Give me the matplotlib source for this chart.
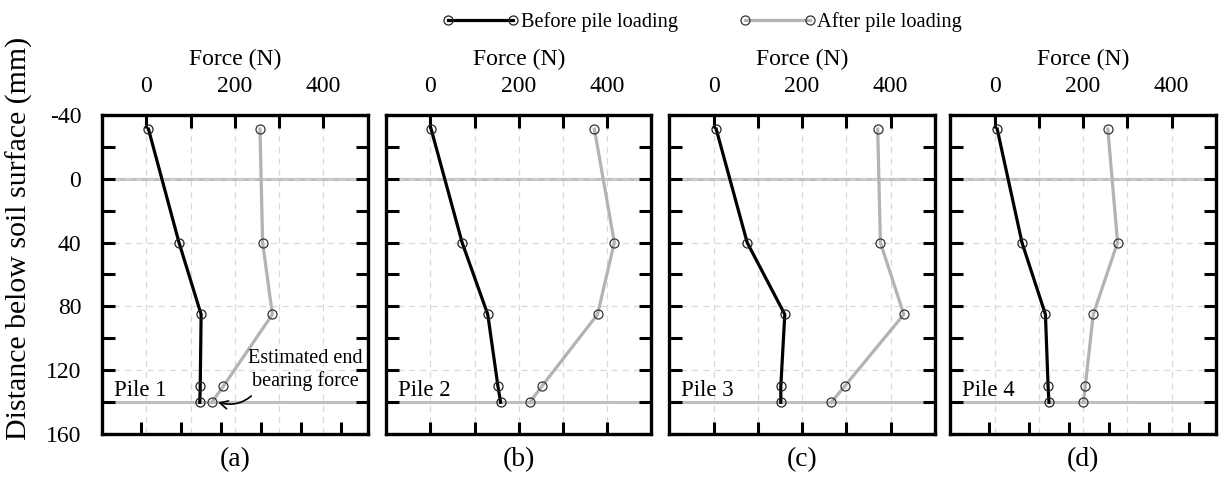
import numpy as np
import matplotlib.pyplot as plt
from matplotlib.ticker import MultipleLocator

plt.rcParams['font.family'] = ['Liberation Serif', 'DejaVu Serif']
plt.rcParams['axes.unicode_minus'] = False

# measurement depths below the soil surface (mm)
depth = [-31, 40, 85, 130, 140]

# axial force along each pile (N)
pile1_before = [5, 74, 124, 122, 121]
pile1_after = [257, 263, 285, 174, 148]
pile2_before = [2, 72, 130, 153, 159]
pile2_after = [371, 416, 378, 252, 225]
pile3_before = [6, 76, 161, 152, 152]
pile3_after = [371, 377, 430, 296, 266]
pile4_before = [6, 62, 115, 121, 123]
pile4_after = [256, 278, 223, 205, 201]

piles = [('Pile 1', pile1_before, pile1_after, '(a)'),
         ('Pile 2', pile2_before, pile2_after, '(b)'),
         ('Pile 3', pile3_before, pile3_after, '(c)'),
         ('Pile 4', pile4_before, pile4_after, '(d)')]

soil_surface = 0
pile_tip = 140

W, H = 1225, 487
fig = plt.figure(figsize=(W / 100, H / 100), dpi=100)

lefts = [102, 386, 669.3, 950.3]
ax_w = 265.5
top, bottom = 114.7, 434.3


# bottom scale of panels a and d has its own spacing
def to_bottom(x):
    return (np.asarray(x) + 100) / 600 * 6.65 - 0.98


def from_bottom(u):
    return (np.asarray(u) + 0.98) / 6.65 * 600 - 100


axes = []
for i, (name, before, after, panel) in enumerate(piles):
    ax = fig.add_axes([lefts[i] / W, 1 - bottom / H, ax_w / W, (bottom - top) / H])
    axes.append(ax)

    ax.axhline(soil_surface, color='#bfbfbf', lw=2.2, zorder=1)
    ax.axhline(pile_tip, color='#bfbfbf', lw=2.2, zorder=1)

    ax.plot(before, depth, color='black', lw=2.3, marker='o', ms=6.5,
            mfc='none', mec='#222222', mew=0.9, zorder=3, label='Before pile loading')
    ax.plot(after, depth, color='#b3b3b3', lw=2.3, marker='o', ms=6.5,
            mfc='none', mec='#333333', mew=0.9, zorder=3, label='After pile loading')

    ax.set_xlim(-100, 500)
    ax.set_ylim(160, -40)

    ax.set_xticks([0, 100, 200, 300, 400])
    ax.set_xticklabels(['0', '', '200', '', '400'])
    ax.yaxis.set_major_locator(MultipleLocator(40))
    ax.yaxis.set_minor_locator(MultipleLocator(20))

    ax.xaxis.set_label_position('top')
    ax.set_xlabel('Force (N)', fontsize=17, labelpad=8)

    ax.grid(True, which='major', ls=(0, (5, 4)), color='#d9d9d9', lw=0.9, zorder=0)

    ax.tick_params(axis='x', which='both', direction='in', top=True, bottom=(i in (1, 2)),
                   labeltop=True, labelbottom=False, length=9, width=2.2,
                   labelsize=17, pad=13)
    ax.tick_params(axis='y', which='both', direction='in', left=True, right=True,
                   labelleft=(i == 0), length=9, width=2.2, labelsize=17, pad=15)

    for s in ax.spines.values():
        s.set_linewidth(2.4)

    if i in (0, 3):
        sec = ax.secondary_xaxis('bottom', functions=(to_bottom, from_bottom))
        sec.set_xticks(range(6))
        sec.tick_params(direction='in', length=9, width=2.2, labelbottom=False)
        sec.spines['bottom'].set_visible(False)

    ax.text(-74, 136, name, fontsize=16.5, va='baseline', ha='left', zorder=4)
    ax.text(0.5, -0.08, panel, transform=ax.transAxes, fontsize=20,
            ha='center', va='center')

axes[0].set_ylabel('Distance below soil surface (mm)', fontsize=21.5)
axes[0].yaxis.set_label_coords(-0.26, 0.614)

axes[0].annotate('Estimated end\nbearing force', xy=(pile1_after[-1] + 14, pile_tip),
                 xytext=(488, 120), fontsize=14.5, ha='right', va='center',
                 multialignment='center', zorder=5,
                 arrowprops=dict(arrowstyle='->', color='black', lw=1.2,
                                 shrinkA=2, shrinkB=0,
                                 connectionstyle='arc3,rad=-0.35',
                                 relpos=(0.1, 0.1)))

handles, labels = axes[0].get_legend_handles_labels()
fig.legend(handles, labels, loc='upper center', bbox_to_anchor=(702 / W, 1.0),
           ncol=2, frameon=False, fontsize=14.7, numpoints=2, handlelength=3.8,
           handletextpad=0.05, columnspacing=3.0, borderaxespad=0.2)

fig.savefig('out.png', dpi=100)
